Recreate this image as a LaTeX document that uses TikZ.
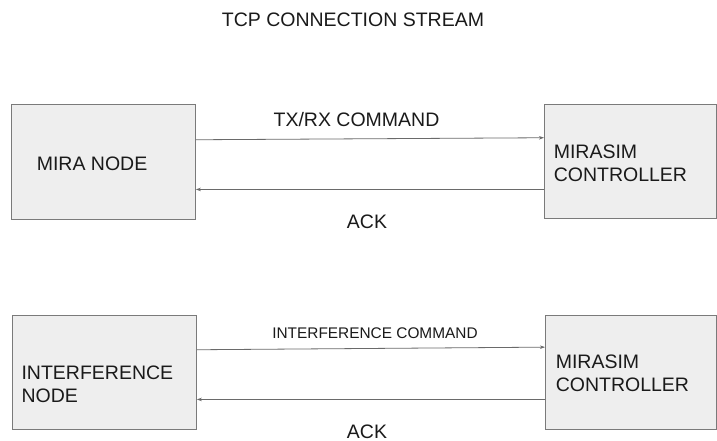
\documentclass[tikz,border=0pt]{standalone}
\usepackage{fontspec}
\setmainfont{Liberation Sans}
\usetikzlibrary{arrows.meta}
\definecolor{boxfill}{HTML}{EEEEEE}
\definecolor{boxline}{HTML}{7A7A7A}
\definecolor{arrowline}{HTML}{6A6A6A}
\definecolor{txt}{HTML}{1A1A1A}
\begin{document}
\begin{tikzpicture}[x=1pt,y=-1pt,
  box/.style={draw=boxline,fill=boxfill,line width=0.9pt,inner sep=0pt,anchor=north west},
  big/.style={font=\fontsize{19.5}{23}\selectfont,text=txt,inner sep=0pt},
  small/.style={font=\fontsize{15.4}{18}\selectfont,text=txt,inner sep=0pt},
  conn/.style={draw=arrowline,line width=0.8pt,-{Stealth[length=5pt,width=3.5pt]}}]
\useasboundingbox (0,0) rectangle (717,441);
\fill[white] (0,0) rectangle (717,441);
% title
\node[big,anchor=base] (title) at (353,27) {TCP CONNECTION STREAM};
% boxes
\node[box,minimum width=184pt,minimum height=115pt] (mira) at (11,104) {};
\node[box,minimum width=172pt,minimum height=114pt] (ctrlA) at (544,104) {};
\node[box,minimum width=184pt,minimum height=114pt] (intf) at (12,315) {};
\node[box,minimum width=171pt,minimum height=114pt] (ctrlB) at (545,315) {};
% box texts
\node[big,anchor=base west] (miratxt) at (36.6,170) {MIRA NODE};
\node[big,anchor=north west,align=left] (ctrlAtxt) at (553.6,145) {MIRASIM\\CONTROLLER};
\node[big,anchor=north west,align=left] (intftxt) at (21.3,365.7) {INTERFERENCE\\NODE};
\node[big,anchor=north west,align=left] (ctrlBtxt) at (555.6,355) {MIRASIM\\CONTROLLER};
% labels
\node[big,anchor=base] (txrx) at (356.5,127) {TX/RX COMMAND};
\node[big,anchor=base] (ackA) at (367,228) {ACK};
\node[small,anchor=base] (intfcmd) at (375,338) {INTERFERENCE COMMAND};
\node[big,anchor=base] (ackB) at (367,438) {ACK};
% connectors
\draw[conn] ([yshift=22.2pt]mira.east) -- ([yshift=23.7pt]ctrlA.west);
\draw[conn] ([yshift=-28pt]ctrlA.west) -- ([yshift=-27.5pt]mira.east);
\draw[conn] ([yshift=22.7pt]intf.east) -- ([yshift=25.3pt]ctrlB.west);
\draw[conn] ([yshift=-27pt]ctrlB.west) -- ([yshift=-27pt]intf.east);
\end{tikzpicture}
\end{document}
